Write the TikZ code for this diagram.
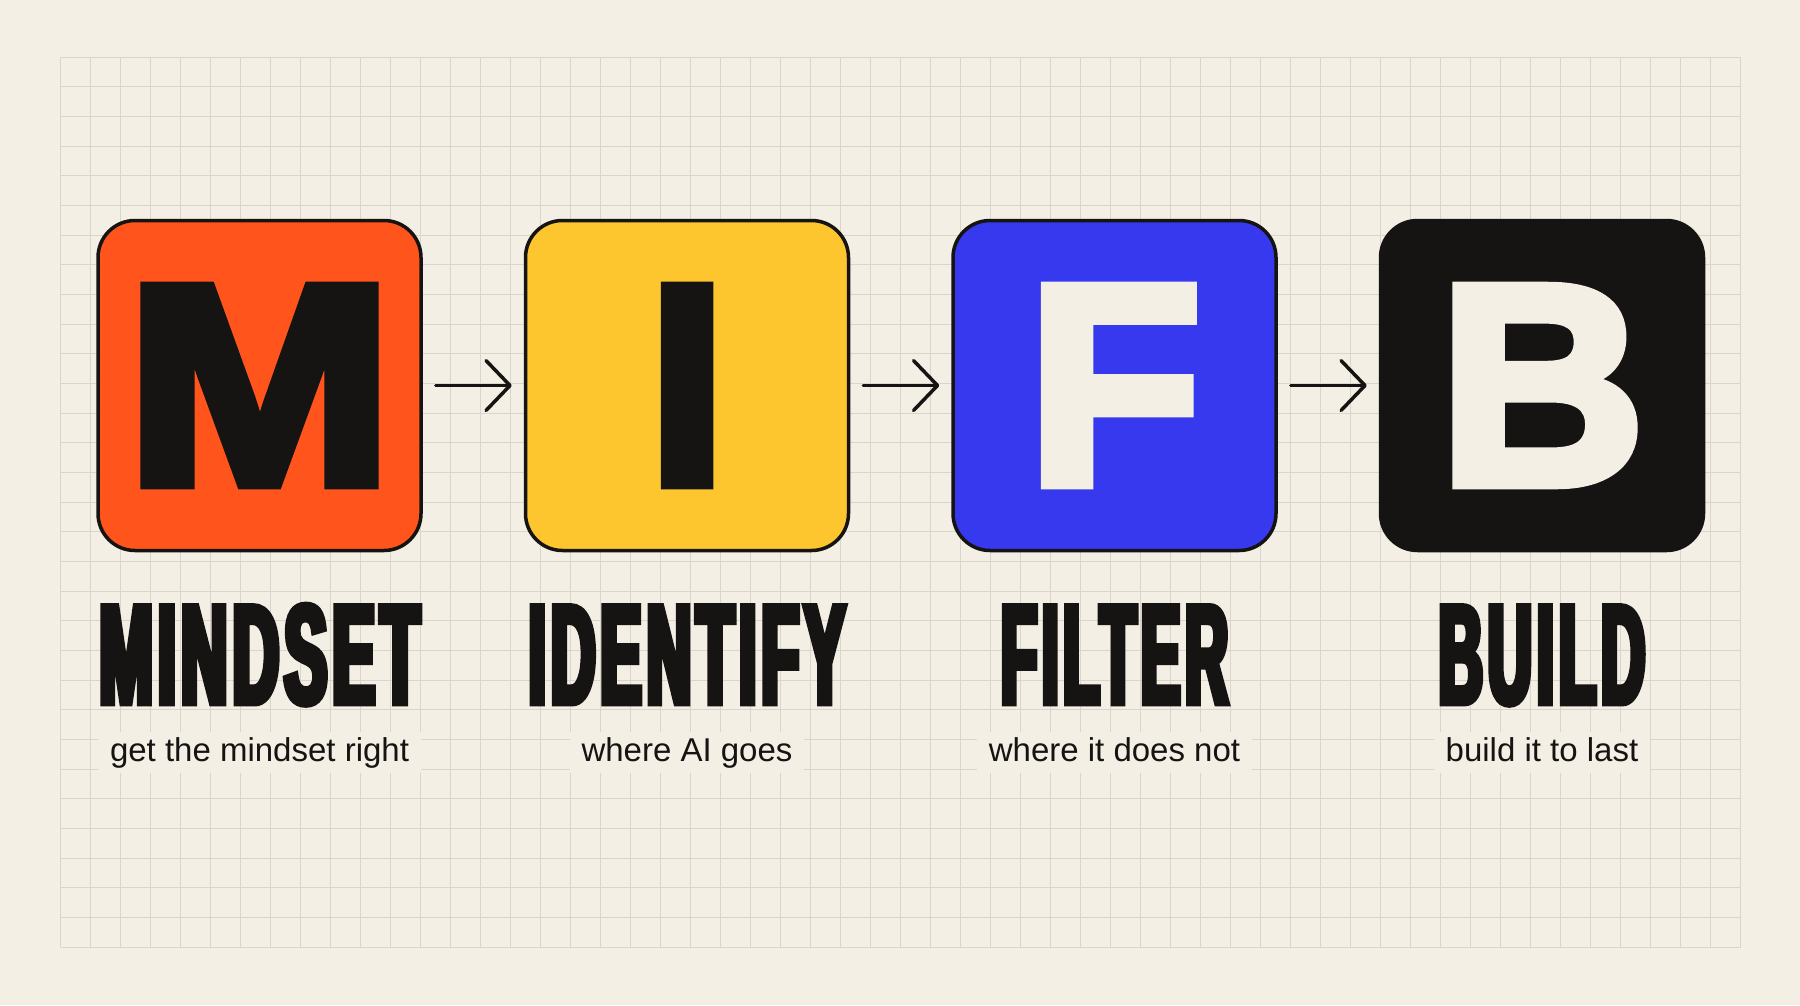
\documentclass[tikz,border=0pt]{standalone}
\usepackage{fontspec}
\usepackage{graphicx}
\setmainfont{Liberation Sans}
\newfontfamily\letterfont{Liberation Sans}[BoldFeatures={FakeBold=4}]
\newfontfamily\titlefont{Liberation Sans}[BoldFeatures={FakeBold=4.5,FakeStretch=0.425,LetterSpace=3.6}]
\usetikzlibrary{arrows.meta,positioning}
\definecolor{paper}{HTML}{F3EFE4}
\definecolor{gridline}{HTML}{D9D5CB}
\definecolor{ink}{HTML}{161412}
\definecolor{mindsetred}{HTML}{FF551C}
\definecolor{identifyyellow}{HTML}{FDC52E}
\definecolor{filterblue}{HTML}{3639EE}
\begin{document}
\begin{tikzpicture}[x=1pt, y=-1pt,
          letterbox/.style={draw=ink, line width=3.5pt, line join=miter, miter limit=2, rounded corners=37pt, minimum width=323pt, minimum height=330pt, inner sep=0pt, font=\letterfont\bfseries\fontsize{285}{285}\selectfont},
          steptitle/.style={anchor=base, inner sep=0pt, line join=miter, miter limit=2, text=ink, font=\titlefont\bfseries\fontsize{141}{141}\selectfont},
          stepnote/.style={anchor=base, fill=paper, inner xsep=12pt, inner ysep=5pt, text height=24pt, text depth=7pt, text=ink, font=\fontsize{33}{33}\selectfont},
          flow/.style={draw=ink, line width=3.5pt, line cap=round, shorten <=13pt, shorten >=12pt, -{Straight Barb[length=24pt, width=50pt, round]}}]
  \fill[paper] (0,0) rectangle (1800,1005);
  \foreach \k in {0,...,56} \draw[gridline, line width=1pt] (60.7+30*\k,57) -- (60.7+30*\k,947);
  \foreach \k in {0,...,30} \draw[gridline, line width=1pt] (60.7,57+29.667*\k) -- (1740.7,57+29.667*\k);
  \node[letterbox, fill=mindsetred, text=ink] (m) at (259.5,385.5) {\scalebox{1.13}[1]{M}};
  \node[letterbox, fill=identifyyellow, text=ink, right=101pt of m] (i) {I};
  \node[letterbox, fill=filterblue, text=paper, right=101pt of i] (f) {F};
  \node[letterbox, fill=ink, text=paper, right=101pt of f] (b) {B};
  \draw[flow] (m) -- (i);
  \draw[flow] (i) -- (f);
  \draw[flow] (f) -- (b);
  \node[steptitle, xscale=1.067] (mt) at ([yshift=-151pt]m.south) {MINDSET};
  \node[steptitle, xscale=1.026] (it) at ([yshift=-151pt]i.south) {IDENTIFY};
  \node[steptitle, xscale=0.984] (ft) at ([yshift=-151pt]f.south) {FILTER};
  \node[steptitle, xscale=1.014] (bt) at ([yshift=-151pt]b.south) {BUILD};
  \node[stepnote] (mn) at ([yshift=-58pt]mt.base) {get the mindset right};
  \node[stepnote] (in) at ([yshift=-58pt]it.base) {where AI goes};
  \node[stepnote] (fn) at ([yshift=-58pt]ft.base) {where it does not};
  \node[stepnote] (bn) at ([yshift=-58pt]bt.base) {build it to last};
\end{tikzpicture}
\end{document}
